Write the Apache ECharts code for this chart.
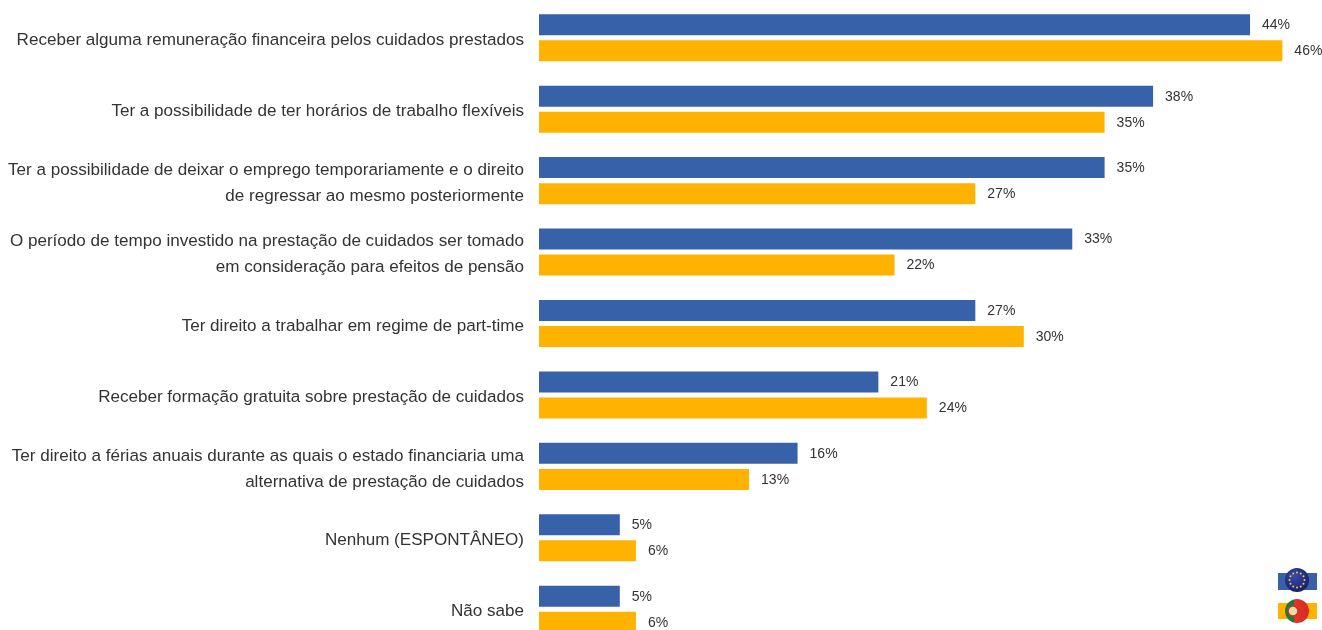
<!DOCTYPE html>
<html>
<head>
<meta charset="utf-8">
<script src="https://cdn.jsdelivr.net/npm/echarts@6/dist/echarts.min.js"></script>
<style>html,body{margin:0;padding:0;background:#fff;overflow:hidden}#c{width:1322px;height:630px}</style>
</head>
<body>
<div id="c"></div>
<script>
const categories = [
  'Receber alguma remuneração financeira pelos cuidados prestados',
  'Ter a possibilidade de ter horários de trabalho flexíveis',
  'Ter a possibilidade de deixar o emprego temporariamente e o direito\nde regressar ao mesmo posteriormente',
  'O período de tempo investido na prestação de cuidados ser tomado\nem consideração para efeitos de pensão',
  'Ter direito a trabalhar em regime de part-time',
  'Receber formação gratuita sobre prestação de cuidados',
  'Ter direito a férias anuais durante as quais o estado financiaria uma\nalternativa de prestação de cuidados',
  'Nenhum (ESPONTÂNEO)',
  'Não sabe'
];
const euValues = [44, 38, 35, 33, 27, 21, 16, 5, 5];
const ptValues = [46, 35, 27, 22, 30, 24, 13, 6, 6];
const euColor = '#3761A8';
const ptColor = '#FFB300';
const font = '"Liberation Sans",Arial,sans-serif';

const label = {
  show: true, position: 'right', distance: 12, offset: [0, 0.5], formatter: '{c}%',
  color: '#333', fontFamily: font, fontSize: 14
};
const stars = [];
for (let i = 0; i < 12; i++) {
  const a = i * Math.PI / 6;
  stars.push({ type: 'circle', shape: { cx: 1297 + 7.5 * Math.cos(a), cy: 580 + 7.5 * Math.sin(a), r: 1 }, style: { fill: '#F2D43A' }, z: 12 });
}
const chart = echarts.init(document.getElementById('c'), null, { renderer: 'canvas' });
chart.setOption({
  animation: false,
  backgroundColor: '#fff',
  grid: [
    { left: 539, top: 2, width: 808, height: 643, outerBoundsMode: 'none' },
    { left: 539, top: 4.5, width: 808, height: 643, outerBoundsMode: 'none' }
  ],
  xAxis: [
    { type: 'value', gridIndex: 0, min: 0, max: 50, show: false },
    { type: 'value', gridIndex: 1, min: 0, max: 50, show: false }
  ],
  yAxis: [
    { type: 'category', gridIndex: 0, inverse: true, data: categories, show: false },
    {
      type: 'category', gridIndex: 1, inverse: true, data: categories,
      axisLine: { show: false }, axisTick: { show: false },
      axisLabel: { margin: 15, align: 'right', color: '#333', fontFamily: font, fontSize: 17.07, lineHeight: 26, interval: 0 }
    }
  ],
  series: [
    { name: 'UE', type: 'bar', xAxisIndex: 0, yAxisIndex: 0, data: euValues, barWidth: 21, barGap: '24%', itemStyle: { color: euColor }, label },
    { name: 'Portugal', type: 'bar', xAxisIndex: 0, yAxisIndex: 0, data: ptValues, barWidth: 21, itemStyle: { color: ptColor }, label }
  ],
  graphic: [
    { type: 'rect', shape: { x: 1278, y: 573, width: 39, height: 17 }, style: { fill: euColor }, z: 10 },
    { type: 'circle', shape: { cx: 1297, cy: 580, r: 12 }, style: { fill: { type: 'radial', x: 0.4, y: 0.35, r: 0.7, colorStops: [{ offset: 0, color: '#3A4BB0' }, { offset: 1, color: '#141C66' }] } }, z: 11 },
    ...stars,
    { type: 'rect', shape: { x: 1278, y: 603, width: 39, height: 16 }, style: { fill: ptColor }, z: 10 },
    { type: 'circle', shape: { cx: 1297, cy: 611, r: 12 }, style: { fill: { type: 'linear', x: 0, y: 0, x2: 1, y2: 0, colorStops: [{ offset: 0, color: '#1F7A3A' }, { offset: 0.38, color: '#1F7A3A' }, { offset: 0.4, color: '#E2342B' }, { offset: 1, color: '#D9281F' }] } }, z: 11 },
    { type: 'circle', shape: { cx: 1293, cy: 611, r: 5 }, style: { fill: '#F1D9A0', stroke: '#C8342A', lineWidth: 1.5 }, z: 12 }
  ]
});
</script>
</body>
</html>
